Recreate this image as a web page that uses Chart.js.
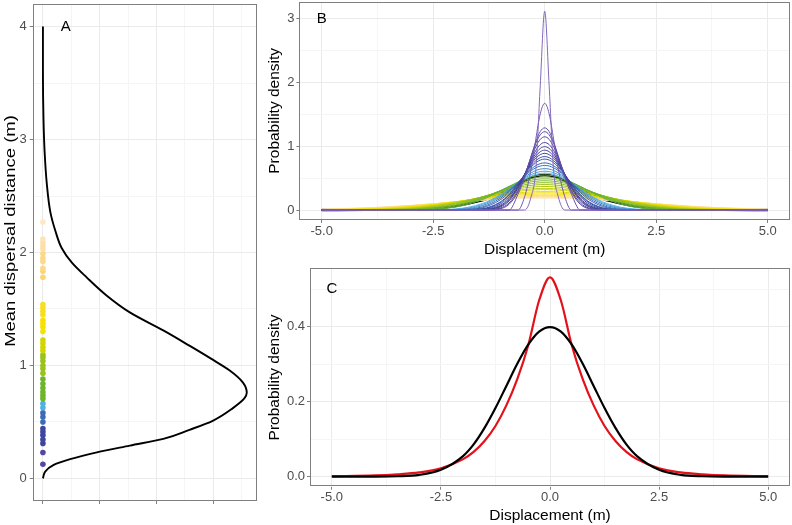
<!DOCTYPE html>
<html>
<head>
<meta charset="utf-8">
<script src="https://cdn.jsdelivr.net/npm/chart.js@4.4.1/dist/chart.umd.min.js"></script>
<style>
  html, body { margin: 0; padding: 0; background: #fff; }
  #wrap { position: relative; width: 792px; height: 525px; overflow: hidden; }
  canvas { position: absolute; }
  #panelA { left: 0; top: 0; }
  #panelB { left: 262px; top: 0; }
  #panelC { left: 262px; top: 262px; }
</style>
</head>
<body>
<div id="wrap">
  <canvas id="panelA" width="262" height="525"></canvas>
  <canvas id="panelB" width="530" height="260"></canvas>
  <canvas id="panelC" width="530" height="263"></canvas>
</div>
<script>
"use strict";

// ── Panel A: density of mean dispersal distance + sampled distances ──
const aMajorX = [0, 1, 2, 3];
const aMinorX = [0.5, 1.5, 2.5, 3.5];
const aMajorY = [0, 1, 2, 3, 4];
const aMinorY = [0.5, 1.5, 2.5, 3.5];
const aLabelsY = ["0", "1", "2", "3", "4"];

const aCurveDist    = [0, 0.06, 0.12, 0.17, 0.23, 0.29, 0.35, 0.43, 0.51, 0.62, 0.71, 0.76,
                       0.85, 0.955, 1.06, 1.175, 1.31, 1.47, 1.62, 1.78, 1.91, 2.04, 2.19,
                       2.36, 2.6, 2.89, 3.18, 3.6, 4.0];
const aCurveDensity = [0, 0.04, 0.19, 0.48, 0.95, 1.53, 2.12, 2.58, 2.99, 3.34, 3.55, 3.59,
                       3.52, 3.29, 2.96, 2.58, 2.12, 1.53, 1.12, 0.77, 0.51, 0.33, 0.22,
                       0.13, 0.07, 0.03, 0.01, 0.0, 0.0];

const dotDist = [0.125, 0.23, 0.31, 0.345, 0.383, 0.413, 0.442, 0.5, 0.544, 0.58, 0.626, 0.662,
                 0.706, 0.735, 0.764, 0.8, 0.838, 0.88, 0.93, 0.97, 1.0, 1.04, 1.07, 1.095,
                 1.13, 1.16, 1.195, 1.225, 1.3, 1.34, 1.37, 1.4, 1.45, 1.48, 1.51, 1.54,
                 1.78, 1.835, 1.86, 1.92, 1.95, 1.99, 2.03, 2.06, 2.09, 2.12, 2.27];
const dotColors = [
  "#5546a3", "#5546a3",
  "#3f46a0", "#3f46a0", "#3f46a0", "#3f46a0", "#3f46a0",
  "#3a6cb8", "#3a6cb8", "#3a6cb8",
  "#4fb1e6", "#4fb1e6",
  "#6db52c", "#6db52c", "#6db52c", "#6db52c", "#6db52c", "#6db52c",
  "#98c31c", "#98c31c", "#98c31c", "#98c31c", "#98c31c", "#98c31c",
  "#d3d500", "#d3d500", "#d3d500", "#d3d500",
  "#f5e102", "#f5e102", "#f5e102", "#f5e102", "#f7de20", "#f7de20", "#f7de20", "#f7de20",
  "#fdd46e", "#fdd46e", "#fdd88a", "#fdd88a", "#fdd88a", "#fdd88a",
  "#fde0a8", "#fde0a8", "#fde0a8", "#fde4b8", "#fde8c6",
];

// ── Panel B: displacement kernels (x >= 0 half, symmetric) ──
const bMajorX = [-5, -2.5, 0, 2.5, 5];
const bMinorX = [-3.75, -1.25, 1.25, 3.75];
const bLabelsX = ["-5.0", "-2.5", "0.0", "2.5", "5.0"];
const bMajorY = [0, 1, 2, 3];
const bMinorY = [0.5, 1.5, 2.5];
const bLabelsY = ["0", "1", "2", "3"];

const bHalfX = [0, 0.1, 0.2, 0.3, 0.45, 0.6, 0.8, 1.0, 1.4, 2.0, 2.8, 3.8, 5.0];
const bCurves = [
  [3.12, 1.95, 0.62, 0.22, 0, 0, 0, 0, 0, 0, 0, 0, 0],
  [1.675, 1.51, 1.11, 0.66, 0.21, 0, 0, 0, 0, 0, 0, 0, 0],
  [1.29, 1.232, 1.073, 0.854, 0.509, 0.247, 0, 0, 0, 0, 0, 0, 0],
  [1.23, 1.181, 1.045, 0.852, 0.538, 0.283, 0.09, 0.02, 0, 0, 0, 0, 0],
  [1.15, 1.109, 0.994, 0.828, 0.549, 0.309, 0.111, 0.03, 0.001, 0, 0, 0, 0],
  [1.06, 1.027, 0.935, 0.8, 0.563, 0.344, 0.143, 0.047, 0.002, 0, 0, 0, 0],
  [0.995, 0.967, 0.888, 0.771, 0.56, 0.359, 0.162, 0.059, 0.004, 0, 0, 0, 0],
  [0.94, 0.916, 0.848, 0.745, 0.557, 0.371, 0.18, 0.071, 0.006, 0, 0, 0, 0],
  [0.89, 0.87, 0.813, 0.726, 0.563, 0.394, 0.209, 0.093, 0.011, 0, 0, 0, 0],
  [0.84, 0.823, 0.775, 0.702, 0.56, 0.409, 0.234, 0.114, 0.017, 0, 0, 0, 0],
  [0.8, 0.785, 0.743, 0.677, 0.55, 0.411, 0.245, 0.126, 0.021, 0, 0, 0, 0],
  [0.74, 0.729, 0.696, 0.644, 0.542, 0.425, 0.276, 0.159, 0.036, 0.002, 0, 0, 0],
  [0.7, 0.691, 0.663, 0.62, 0.533, 0.432, 0.296, 0.183, 0.05, 0.003, 0, 0, 0],
  [0.65, 0.643, 0.621, 0.586, 0.515, 0.43, 0.312, 0.206, 0.069, 0.007, 0, 0, 0],
  [0.61, 0.604, 0.586, 0.558, 0.499, 0.427, 0.323, 0.226, 0.087, 0.012, 0, 0, 0],
  [0.58, 0.575, 0.56, 0.535, 0.484, 0.421, 0.328, 0.238, 0.102, 0.017, 0.001, 0, 0],
  [0.55, 0.547, 0.537, 0.52, 0.485, 0.44, 0.371, 0.297, 0.164, 0.047, 0.004, 0, 0],
  [0.52, 0.517, 0.509, 0.495, 0.466, 0.428, 0.367, 0.302, 0.18, 0.059, 0.007, 0, 0],
  [0.49, 0.488, 0.481, 0.469, 0.445, 0.412, 0.36, 0.303, 0.191, 0.072, 0.011, 0, 0],
  [0.46, 0.458, 0.452, 0.443, 0.422, 0.394, 0.35, 0.3, 0.199, 0.083, 0.016, 0.001, 0],
  [0.43, 0.428, 0.424, 0.416, 0.398, 0.375, 0.338, 0.295, 0.205, 0.095, 0.022, 0.002, 0],
  [0.4, 0.399, 0.395, 0.388, 0.374, 0.354, 0.323, 0.286, 0.207, 0.104, 0.029, 0.003, 0],
  [0.37, 0.369, 0.366, 0.36, 0.349, 0.333, 0.306, 0.275, 0.207, 0.113, 0.036, 0.005, 0],
  [0.34, 0.339, 0.336, 0.332, 0.322, 0.309, 0.287, 0.261, 0.203, 0.119, 0.043, 0.008, 0],
  [0.32, 0.319, 0.317, 0.313, 0.305, 0.294, 0.275, 0.252, 0.201, 0.124, 0.05, 0.01, 0.001],
  [0.29, 0.289, 0.288, 0.285, 0.278, 0.269, 0.254, 0.236, 0.193, 0.126, 0.057, 0.014, 0.002],
  [0.27, 0.27, 0.268, 0.266, 0.26, 0.253, 0.24, 0.225, 0.188, 0.13, 0.064, 0.019, 0.003],
  [0.25, 0.25, 0.248, 0.246, 0.242, 0.236, 0.225, 0.212, 0.182, 0.13, 0.07, 0.024, 0.004],
  [0.23, 0.23, 0.229, 0.227, 0.224, 0.219, 0.21, 0.2, 0.175, 0.132, 0.078, 0.031, 0.007],
  [0.215, 0.215, 0.214, 0.213, 0.21, 0.206, 0.198, 0.19, 0.168, 0.13, 0.081, 0.035, 0.009],
  [0.2, 0.2, 0.199, 0.198, 0.195, 0.192, 0.186, 0.179, 0.16, 0.127, 0.082, 0.039, 0.012],
  [0.185, 0.185, 0.184, 0.183, 0.181, 0.178, 0.173, 0.167, 0.151, 0.122, 0.082, 0.042, 0.014],
];
const bCurveColors = [
  "#8567bb", "#7359b2", "#6250aa", "#5747a4", "#4e409f", "#483d9c", "#433d9c", "#40419e",
  "#3d48a2", "#3b50a7", "#3a59ad", "#3964b6", "#3a72bf", "#3d85ca", "#4aa2dc", "#58b6ea",
  "#5dae3e", "#68b231", "#74b62a", "#80ba25", "#8dbe20", "#9cc21b", "#b0c912", "#c4d00a",
  "#d6d604", "#e8dc02", "#f3e003", "#f8e22a", "#fbdf68", "#fcdb88", "#fde3a8", "#fee9c2",
];
const bMeanX = [0, 0.25, 0.5, 0.75, 1, 1.25, 1.5, 2, 2.5, 3, 4, 5];
const bMeanY = [0.55, 0.52, 0.44, 0.35, 0.26, 0.185, 0.135, 0.062, 0.026, 0.011, 0.003, 0];

// ── Panel C: Gaussian vs. fitted kernel ──
const cMajorY = [0, 0.2, 0.4];
const cMinorY = [0.1, 0.3, 0.5];
const cLabelsY = ["0.0", "0.2", "0.4"];
const cHalfX  = [0, 0.25, 0.5, 0.75, 1, 1.25, 1.5, 1.75, 2, 2.5, 3, 3.5, 4, 5];
const cNormal = [0.399, 0.387, 0.352, 0.301, 0.242, 0.183, 0.13, 0.086, 0.054, 0.018, 0.0044, 0.0009, 0.0001, 0];
const cKernel = [0.532, 0.47, 0.35, 0.26, 0.19, 0.135, 0.095, 0.066, 0.046, 0.022, 0.011, 0.006, 0.003, 0.001];

// ── Helpers ───────────────────────────────────────────────
const FONT  = "'Liberation Sans', Arial, Helvetica, sans-serif";
const FRAME = "#7f7f7f";

function mirror(xs, ys) {
  const pts = [];
  for (let i = xs.length - 1; i > 0; i--) pts.push({ x: -xs[i], y: ys[i] });
  for (let i = 0; i < xs.length; i++) pts.push({ x: xs[i], y: ys[i] });
  return pts;
}

// ggplot-ish axis: major + minor grid, ticks only on majors
function axis(o) {
  const all = o.major.concat(o.minor).sort((a, b) => a - b);
  const isMajor = (v) => o.major.includes(v);
  return {
    type: "linear",
    position: o.position,
    min: o.min,
    max: o.max,
    afterBuildTicks: (s) => { s.ticks = all.map((v) => ({ value: v })); },
    afterFit: (s) => {
      if (o.position === "left") s.width = o.size; else s.height = o.size;
      s.paddingTop = s.paddingBottom = s.paddingLeft = s.paddingRight = 0;
    },
    ticks: {
      autoSkip: false, maxRotation: 0, minRotation: 0,
      padding: o.tickPad, color: "#4d4d4d",
      font: { family: FONT, size: 13 },
      callback: (v) => {
        const i = o.major.indexOf(v);
        return i >= 0 && o.labels ? o.labels[i] : "";
      },
    },
    grid: {
      color: (c) => (isMajor(c.tick.value) ? "#ebebeb" : "#f5f5f5"),
      tickColor: (c) => (isMajor(c.tick.value) ? FRAME : "rgba(0,0,0,0)"),
      lineWidth: 1,
      tickLength: 3,
    },
    border: { display: false },
    title: o.title
      ? { display: true, text: o.title, color: "#000",
          font: { family: FONT, size: o.titleSize }, padding: o.titlePad }
      : { display: false },
  };
}

// frame round the plot area, panel letter at data coords, optional side title
const panelFrame = {
  id: "panelFrame",
  afterDraw(chart, args, opts) {
    const { ctx, chartArea: a, scales } = chart;
    ctx.save();
    ctx.strokeStyle = FRAME;
    ctx.lineWidth = 1;
    ctx.strokeRect(Math.round(a.left) + 0.5, Math.round(a.top) + 0.5,
                   Math.round(a.right - a.left) - 1, Math.round(a.bottom - a.top) - 1);
    ctx.fillStyle = "#000";
    ctx.font = "15px " + FONT;
    ctx.textAlign = "center";
    ctx.textBaseline = "middle";
    ctx.fillText(opts.letter, scales.x.getPixelForValue(opts.at[0]),
                 scales.y.getPixelForValue(opts.at[1]));
    if (opts.sideTitle) {
      // panel A's title is stretched along its length in the original
      const t = opts.sideTitle;
      ctx.translate(t.x, t.y);
      ctx.rotate(-Math.PI / 2);
      ctx.scale(t.stretch, 1);
      ctx.font = t.size + "px " + FONT;
      ctx.fillText(t.text, 0, 0);
    }
    ctx.restore();
  },
};

const common = {
  responsive: false,
  animation: false,
  events: [],
  elements: { point: { radius: 0 } },
};

// ── Chart A ───────────────────────────────────────────────
new Chart(document.getElementById("panelA"), {
  type: "line",
  data: {
    datasets: [
      {
        data: dotDist.map((d) => ({ x: 0, y: d })),
        showLine: false,
        pointRadius: 2.8,
        pointBorderWidth: 0,
        pointBackgroundColor: dotColors,
      },
      {
        data: aCurveDensity.map((d, i) => ({ x: d, y: aCurveDist[i] })),
        borderColor: "#000",
        borderWidth: 1.9,
        cubicInterpolationMode: "monotone",
      },
    ],
  },
  options: {
    ...common,
    indexAxis: "y",
    layout: { padding: { left: 0, top: 1.7, right: 5, bottom: 0 } },
    plugins: {
      legend: { display: false }, tooltip: { enabled: false },
      panelFrame: {
        letter: "A", at: [0.4, 4],
        sideTitle: { text: "Mean dispersal distance (m)", x: 10.5, y: 231, size: 15.5, stretch: 1.19 },
      },
    },
    scales: {
      x: axis({ position: "bottom", min: -0.18, max: 3.77, major: aMajorX, minor: aMinorX,
                labels: null, size: 24, tickPad: 2 }),
      y: axis({ position: "left", min: -0.2, max: 4.2, major: aMajorY, minor: aMinorY,
                labels: aLabelsY, size: 32.7, tickPad: 3 }),
    },
  },
  plugins: [panelFrame],
});

// ── Chart B ───────────────────────────────────────────────
const bDatasets = bCurves.map((ys, i) => ({
  data: mirror(bHalfX, ys),
  borderColor: bCurveColors[i],
  borderWidth: 1,
  cubicInterpolationMode: "monotone",
}));
bDatasets.push({
  data: mirror(bMeanX, bMeanY),
  borderColor: "#000",
  borderWidth: 2.4,
  cubicInterpolationMode: "monotone",
});

new Chart(document.getElementById("panelB"), {
  type: "line",
  data: { datasets: bDatasets },
  options: {
    ...common,
    layout: { padding: { left: 0, top: 1.7, right: 2, bottom: 0 } },
    plugins: { legend: { display: false }, tooltip: { enabled: false },
               panelFrame: { letter: "B", at: [-5, 3] } },
    scales: {
      x: axis({ position: "bottom", min: -5.5, max: 5.5, major: bMajorX, minor: bMinorX,
                labels: bLabelsX, size: 40, tickPad: 1,
                title: "Displacement (m)", titleSize: 15.5, titlePad: { top: 0, bottom: 0.5 } }),
      y: axis({ position: "left", min: -0.156, max: 3.27, major: bMajorY, minor: bMinorY,
                labels: bLabelsY, size: 37.4, tickPad: 2,
                title: "Probability density", titleSize: 15.5, titlePad: { top: 3.7, bottom: 0 } }),
    },
  },
  plugins: [panelFrame],
});

// ── Chart C ───────────────────────────────────────────────
new Chart(document.getElementById("panelC"), {
  type: "line",
  data: {
    datasets: [
      { data: mirror(cHalfX, cNormal), borderColor: "#000", borderWidth: 2.2,
        cubicInterpolationMode: "monotone" },
      { data: mirror(cHalfX, cKernel), borderColor: "#e3111a", borderWidth: 2.2,
        cubicInterpolationMode: "monotone" },
    ],
  },
  options: {
    ...common,
    layout: { padding: { left: 0, top: 6.3, right: 2, bottom: 0 } },
    plugins: { legend: { display: false }, tooltip: { enabled: false },
               panelFrame: { letter: "C", at: [-5, 0.5] } },
    scales: {
      x: axis({ position: "bottom", min: -5.5, max: 5.5, major: bMajorX, minor: bMinorX,
                labels: bLabelsX, size: 38.3, tickPad: 0,
                title: "Displacement (m)", titleSize: 15.5, titlePad: { top: 0, bottom: 0 } }),
      y: axis({ position: "left", min: -0.027, max: 0.556, major: cMajorY, minor: cMinorY,
                labels: cLabelsY, size: 48, tickPad: 2,
                title: "Probability density", titleSize: 15.5, titlePad: { top: 3.7, bottom: 0 } }),
    },
  },
  plugins: [panelFrame],
});
</script>
</body>
</html>
